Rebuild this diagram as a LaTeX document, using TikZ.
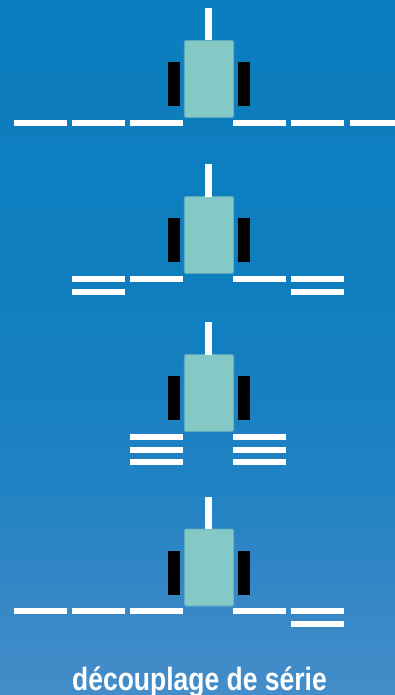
\documentclass[tikz,border=0pt]{standalone}
\usepackage{fontspec}
\setmainfont{Liberation Sans}
\newfontfamily\capfont[FakeStretch=0.82]{Liberation Sans Bold}
\definecolor{bgA}{RGB}{12,125,190}
\definecolor{bgB}{RGB}{14,126,191}
\definecolor{bgC}{RGB}{32,130,195}
\definecolor{bgD}{RGB}{54,135,198}
\definecolor{bgE}{RGB}{68,141,201}
\definecolor{bodyfill}{RGB}{133,201,199}
\definecolor{bodyline}{RGB}{88,170,190}
\pgfdeclareverticalshading{pagebg}{100bp}{
  color(0bp)=(bgE); color(25bp)=(bgE); color(32bp)=(bgD); color(40bp)=(bgC); color(55bp)=(bgB); color(75bp)=(bgA); color(100bp)=(bgA)}
\tikzset{
  x=1pt,y=-1pt,
  bodybox/.style={draw=bodyline,line width=.7pt,fill=bodyfill,rounded corners=2pt,minimum width=49.5pt,minimum height=77pt,inner sep=0pt,outer sep=0pt},
  wheelbox/.style={fill=black,minimum width=12pt,minimum height=44pt,inner sep=0pt,outer sep=0pt},
  dashbar/.style={fill=white,minimum width=52.5pt,minimum height=6pt,inner sep=0pt,outer sep=0pt},
  antennabar/.style={draw=white,line width=6.2pt},
  captiontext/.style={text=white,inner sep=0pt,font=\capfont\fontsize{32.3}{32.3}\selectfont}
}
\begin{document}
\begin{tikzpicture}
\useasboundingbox (0,0) rectangle (395,695);
\path[shading=pagebg] (0,0) rectangle (395,695);
% robot: name / top of antenna / top of body
\foreach \r/\a/\b in {p/8/40.5,q/164/196.5,s/322/354.5,t/497/529}{
  \coordinate (\r tip) at (208.4,\a);
  \node[bodybox] (\r body) at (209,\b+38.5) {};
  \draw[antennabar] (\r tip) -- (\r tip |- \r body.north);
  \node[wheelbox] (\r wl) at (174.3,\b+43.5) {};
  \node[wheelbox] (\r wr) at (244.3,\b+43.5) {};
}
% robot 1 track
\foreach \n/\x in {a/40.25,b/98.25,c/156.25,d/259.5,e/317.5}{
  \node[dashbar] (p\n) at (\x,123) {};
}
\node[dashbar,minimum width=46pt] (pf) at (372.5,123) {};
% robot 2 track
\foreach \n/\x/\y in {a/98.25/279,b/98.25/292,c/156.25/279,d/259.5/279,e/317.5/279,f/317.5/292}{
  \node[dashbar] (q\n) at (\x,\y) {};
}
% robot 3 track
\foreach \n/\x/\y in {a/156.25/437,b/156.25/450,c/156.25/462,d/259.5/437,e/259.5/450,f/259.5/462}{
  \node[dashbar] (s\n) at (\x,\y) {};
}
% robot 4 track
\foreach \n/\x/\y in {a/40.25/611,b/98.25/611,c/156.25/611,d/259.5/611,e/317.5/611,f/317.5/624}{
  \node[dashbar] (t\n) at (\x,\y) {};
}
\node[captiontext,anchor=base] (caption) at (199.5,690) {découplage de série};
\end{tikzpicture}
\end{document}
